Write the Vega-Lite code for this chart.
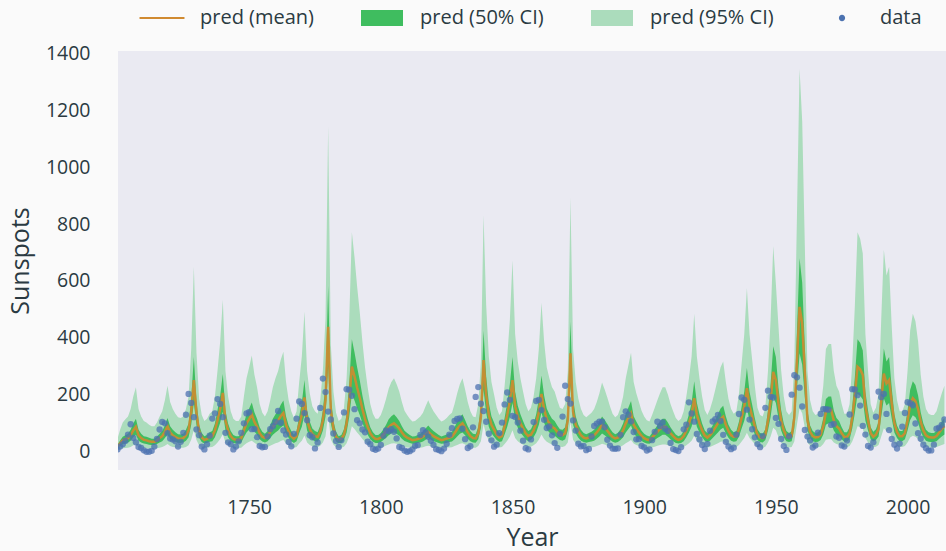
{
"$schema": "https://vega.github.io/schema/vega-lite/v6.json",
"width": 828, "height": 419,
"autosize": {"type": "none"},
"padding": {"left": 118, "top": 51, "right": 0, "bottom": 81},
"background": "#fafafa",
"config": {
  "view": {"fill": "#eaeaf2", "stroke": null},
  "font": "Open Sans",
  "axis": {"grid": false, "domain": false, "ticks": false, "labelFont": "Open Sans", "labelFontSize": 19.5, "labelColor": "#2b3a42", "titleFont": "Open Sans", "titleFontSize": 25, "titleFontWeight": "normal", "titleColor": "#2b3a42"}
},
"data": {"values": [
{"year":1700,"spots":8.3,"mean":18,"lo95":5,"lo50":12,"hi50":24,"hi95":46},
{"year":1701,"spots":18.3,"mean":30,"lo95":9,"lo50":20,"hi50":40,"hi95":77},
{"year":1702,"spots":26.7,"mean":40,"lo95":12,"lo50":27,"hi50":53,"hi95":103},
{"year":1703,"spots":38.3,"mean":44,"lo95":13,"lo50":30,"hi50":58,"hi95":114},
{"year":1704,"spots":60,"mean":48,"lo95":14,"lo50":33,"hi50":63,"hi95":124},
{"year":1705,"spots":96.7,"mean":58,"lo95":17,"lo50":39,"hi50":77,"hi95":150},
{"year":1706,"spots":48.3,"mean":75,"lo95":23,"lo50":51,"hi50":99,"hi95":194},
{"year":1707,"spots":33.3,"mean":88,"lo95":26,"lo50":60,"hi50":116,"hi95":227},
{"year":1708,"spots":16.7,"mean":58,"lo95":17,"lo50":39,"hi50":77,"hi95":150},
{"year":1709,"spots":13.3,"mean":48,"lo95":14,"lo50":33,"hi50":63,"hi95":124},
{"year":1710,"spots":5,"mean":42,"lo95":13,"lo50":29,"hi50":55,"hi95":108},
{"year":1711,"spots":0,"mean":40,"lo95":12,"lo50":27,"hi50":53,"hi95":103},
{"year":1712,"spots":0,"mean":37,"lo95":11,"lo50":25,"hi50":49,"hi95":95},
{"year":1713,"spots":3.3,"mean":35,"lo95":11,"lo50":24,"hi50":46,"hi95":90},
{"year":1714,"spots":18.3,"mean":35,"lo95":11,"lo50":24,"hi50":46,"hi95":90},
{"year":1715,"spots":45,"mean":40,"lo95":12,"lo50":27,"hi50":53,"hi95":103},
{"year":1716,"spots":78.3,"mean":48,"lo95":14,"lo50":33,"hi50":63,"hi95":124},
{"year":1717,"spots":105,"mean":55,"lo95":17,"lo50":37,"hi50":73,"hi95":142},
{"year":1718,"spots":100,"mean":70,"lo95":21,"lo50":48,"hi50":92,"hi95":181},
{"year":1719,"spots":65,"mean":90,"lo95":27,"lo50":61,"hi50":119,"hi95":232},
{"year":1720,"spots":46.7,"mean":68,"lo95":20,"lo50":46,"hi50":90,"hi95":175},
{"year":1721,"spots":43.3,"mean":58,"lo95":17,"lo50":39,"hi50":77,"hi95":150},
{"year":1722,"spots":36.7,"mean":52,"lo95":16,"lo50":35,"hi50":69,"hi95":134},
{"year":1723,"spots":18.3,"mean":47,"lo95":14,"lo50":32,"hi50":62,"hi95":121},
{"year":1724,"spots":35,"mean":46,"lo95":14,"lo50":31,"hi50":61,"hi95":119},
{"year":1725,"spots":66.7,"mean":48,"lo95":14,"lo50":33,"hi50":63,"hi95":124},
{"year":1726,"spots":130,"mean":58,"lo95":17,"lo50":39,"hi50":77,"hi95":150},
{"year":1727,"spots":203.3,"mean":75,"lo95":23,"lo50":51,"hi50":99,"hi95":194},
{"year":1728,"spots":171.7,"mean":140,"lo95":42,"lo50":95,"hi50":185,"hi95":361},
{"year":1729,"spots":121.7,"mean":252,"lo95":76,"lo50":171,"hi50":333,"hi95":650},
{"year":1730,"spots":78.3,"mean":135,"lo95":41,"lo50":92,"hi50":178,"hi95":348},
{"year":1731,"spots":58.3,"mean":72,"lo95":22,"lo50":49,"hi50":95,"hi95":186},
{"year":1732,"spots":18.3,"mean":50,"lo95":15,"lo50":34,"hi50":66,"hi95":129},
{"year":1733,"spots":8.3,"mean":42,"lo95":13,"lo50":29,"hi50":55,"hi95":108},
{"year":1734,"spots":26.7,"mean":45,"lo95":14,"lo50":31,"hi50":59,"hi95":116},
{"year":1735,"spots":56.7,"mean":52,"lo95":16,"lo50":35,"hi50":69,"hi95":134},
{"year":1736,"spots":116.7,"mean":55,"lo95":17,"lo50":37,"hi50":73,"hi95":142},
{"year":1737,"spots":135,"mean":75,"lo95":23,"lo50":51,"hi50":99,"hi95":194},
{"year":1738,"spots":185,"mean":111,"lo95":33,"lo50":75,"hi50":147,"hi95":286},
{"year":1739,"spots":168.3,"mean":150,"lo95":45,"lo50":102,"hi50":198,"hi95":387},
{"year":1740,"spots":121.7,"mean":207,"lo95":62,"lo50":141,"hi50":273,"hi95":534},
{"year":1741,"spots":66.7,"mean":110,"lo95":33,"lo50":75,"hi50":145,"hi95":284},
{"year":1742,"spots":33.3,"mean":75,"lo95":23,"lo50":51,"hi50":99,"hi95":194},
{"year":1743,"spots":26.7,"mean":55,"lo95":17,"lo50":37,"hi50":73,"hi95":142},
{"year":1744,"spots":8.3,"mean":45,"lo95":14,"lo50":31,"hi50":59,"hi95":116},
{"year":1745,"spots":18.3,"mean":42,"lo95":13,"lo50":29,"hi50":55,"hi95":108},
{"year":1746,"spots":36.7,"mean":42,"lo95":13,"lo50":29,"hi50":55,"hi95":108},
{"year":1747,"spots":66.7,"mean":48,"lo95":14,"lo50":33,"hi50":63,"hi95":124},
{"year":1748,"spots":100,"mean":75,"lo95":23,"lo50":51,"hi50":99,"hi95":194},
{"year":1749,"spots":134.8,"mean":100,"lo95":30,"lo50":68,"hi50":132,"hi95":258},
{"year":1750,"spots":139,"mean":115,"lo95":35,"lo50":78,"hi50":152,"hi95":297},
{"year":1751,"spots":79.5,"mean":131,"lo95":39,"lo50":89,"hi50":173,"hi95":338},
{"year":1752,"spots":79.7,"mean":105,"lo95":32,"lo50":71,"hi50":139,"hi95":271},
{"year":1753,"spots":51.2,"mean":88,"lo95":26,"lo50":60,"hi50":116,"hi95":227},
{"year":1754,"spots":20.3,"mean":65,"lo95":20,"lo50":44,"hi50":86,"hi95":168},
{"year":1755,"spots":16,"mean":53,"lo95":16,"lo50":36,"hi50":70,"hi95":137},
{"year":1756,"spots":17,"mean":48,"lo95":14,"lo50":33,"hi50":63,"hi95":124},
{"year":1757,"spots":54,"mean":55,"lo95":17,"lo50":37,"hi50":73,"hi95":142},
{"year":1758,"spots":79.3,"mean":70,"lo95":21,"lo50":48,"hi50":92,"hi95":181},
{"year":1759,"spots":90,"mean":88,"lo95":26,"lo50":60,"hi50":116,"hi95":227},
{"year":1760,"spots":104.8,"mean":100,"lo95":30,"lo50":68,"hi50":132,"hi95":258},
{"year":1761,"spots":143.2,"mean":110,"lo95":33,"lo50":75,"hi50":145,"hi95":284},
{"year":1762,"spots":102,"mean":125,"lo95":38,"lo50":85,"hi50":165,"hi95":323},
{"year":1763,"spots":75.2,"mean":136,"lo95":41,"lo50":92,"hi50":180,"hi95":351},
{"year":1764,"spots":60.7,"mean":95,"lo95":29,"lo50":65,"hi50":125,"hi95":245},
{"year":1765,"spots":34.8,"mean":70,"lo95":21,"lo50":48,"hi50":92,"hi95":181},
{"year":1766,"spots":19,"mean":55,"lo95":17,"lo50":37,"hi50":73,"hi95":142},
{"year":1767,"spots":63,"mean":46,"lo95":14,"lo50":31,"hi50":61,"hi95":119},
{"year":1768,"spots":116.3,"mean":55,"lo95":17,"lo50":37,"hi50":73,"hi95":142},
{"year":1769,"spots":176.8,"mean":95,"lo95":29,"lo50":65,"hi50":125,"hi95":245},
{"year":1770,"spots":168,"mean":130,"lo95":39,"lo50":88,"hi50":172,"hi95":335},
{"year":1771,"spots":136,"mean":191,"lo95":57,"lo50":130,"hi50":252,"hi95":493},
{"year":1772,"spots":110.8,"mean":110,"lo95":33,"lo50":75,"hi50":145,"hi95":284},
{"year":1773,"spots":58,"mean":80,"lo95":24,"lo50":54,"hi50":106,"hi95":206},
{"year":1774,"spots":51,"mean":62,"lo95":19,"lo50":42,"hi50":82,"hi95":160},
{"year":1775,"spots":11.7,"mean":55,"lo95":17,"lo50":37,"hi50":73,"hi95":142},
{"year":1776,"spots":33,"mean":52,"lo95":16,"lo50":35,"hi50":69,"hi95":134},
{"year":1777,"spots":154.2,"mean":70,"lo95":21,"lo50":48,"hi50":92,"hi95":181},
{"year":1778,"spots":257.3,"mean":111,"lo95":33,"lo50":75,"hi50":147,"hi95":286},
{"year":1779,"spots":209.8,"mean":182,"lo95":55,"lo50":124,"hi50":240,"hi95":470},
{"year":1780,"spots":141.3,"mean":439,"lo95":132,"lo50":299,"hi50":582,"hi95":1144},
{"year":1781,"spots":113.5,"mean":147,"lo95":44,"lo50":100,"hi50":194,"hi95":379},
{"year":1782,"spots":64.2,"mean":82,"lo95":25,"lo50":56,"hi50":108,"hi95":212},
{"year":1783,"spots":38,"mean":53,"lo95":16,"lo50":36,"hi50":70,"hi95":137},
{"year":1784,"spots":17,"mean":42,"lo95":13,"lo50":29,"hi50":55,"hi95":108},
{"year":1785,"spots":40.2,"mean":45,"lo95":14,"lo50":31,"hi50":59,"hi95":116},
{"year":1786,"spots":138.2,"mean":60,"lo95":18,"lo50":41,"hi50":79,"hi95":155},
{"year":1787,"spots":220,"mean":100,"lo95":30,"lo50":68,"hi50":132,"hi95":258},
{"year":1788,"spots":218.2,"mean":180,"lo95":54,"lo50":122,"hi50":238,"hi95":464},
{"year":1789,"spots":196.8,"mean":299,"lo95":90,"lo50":203,"hi50":395,"hi95":771},
{"year":1790,"spots":149.8,"mean":265,"lo95":80,"lo50":180,"hi50":350,"hi95":684},
{"year":1791,"spots":111,"mean":225,"lo95":68,"lo50":153,"hi50":297,"hi95":581},
{"year":1792,"spots":100,"mean":190,"lo95":57,"lo50":129,"hi50":251,"hi95":490},
{"year":1793,"spots":78.2,"mean":150,"lo95":45,"lo50":102,"hi50":198,"hi95":387},
{"year":1794,"spots":68.3,"mean":115,"lo95":35,"lo50":78,"hi50":152,"hi95":297},
{"year":1795,"spots":35.5,"mean":88,"lo95":26,"lo50":60,"hi50":116,"hi95":227},
{"year":1796,"spots":26.7,"mean":65,"lo95":20,"lo50":44,"hi50":86,"hi95":168},
{"year":1797,"spots":10.7,"mean":52,"lo95":16,"lo50":35,"hi50":69,"hi95":134},
{"year":1798,"spots":6.8,"mean":45,"lo95":14,"lo50":31,"hi50":59,"hi95":116},
{"year":1799,"spots":11.3,"mean":45,"lo95":14,"lo50":31,"hi50":59,"hi95":116},
{"year":1800,"spots":24.2,"mean":50,"lo95":15,"lo50":34,"hi50":66,"hi95":129},
{"year":1801,"spots":56.7,"mean":60,"lo95":18,"lo50":41,"hi50":79,"hi95":155},
{"year":1802,"spots":75,"mean":72,"lo95":22,"lo50":49,"hi50":95,"hi95":186},
{"year":1803,"spots":71.8,"mean":86,"lo95":26,"lo50":58,"hi50":114,"hi95":222},
{"year":1804,"spots":79.2,"mean":95,"lo95":29,"lo50":65,"hi50":125,"hi95":245},
{"year":1805,"spots":70.3,"mean":100,"lo95":30,"lo50":68,"hi50":132,"hi95":258},
{"year":1806,"spots":46.8,"mean":92,"lo95":28,"lo50":63,"hi50":121,"hi95":237},
{"year":1807,"spots":16.8,"mean":82,"lo95":25,"lo50":56,"hi50":108,"hi95":212},
{"year":1808,"spots":13.5,"mean":68,"lo95":20,"lo50":46,"hi50":90,"hi95":175},
{"year":1809,"spots":4.2,"mean":56,"lo95":17,"lo50":38,"hi50":74,"hi95":144},
{"year":1810,"spots":0,"mean":50,"lo95":15,"lo50":34,"hi50":66,"hi95":129},
{"year":1811,"spots":2.3,"mean":45,"lo95":14,"lo50":31,"hi50":59,"hi95":116},
{"year":1812,"spots":8.3,"mean":41,"lo95":12,"lo50":28,"hi50":54,"hi95":106},
{"year":1813,"spots":20.3,"mean":42,"lo95":13,"lo50":29,"hi50":55,"hi95":108},
{"year":1814,"spots":23.2,"mean":45,"lo95":14,"lo50":31,"hi50":59,"hi95":116},
{"year":1815,"spots":59,"mean":48,"lo95":14,"lo50":33,"hi50":63,"hi95":124},
{"year":1816,"spots":76.3,"mean":53,"lo95":16,"lo50":36,"hi50":70,"hi95":137},
{"year":1817,"spots":68.3,"mean":62,"lo95":19,"lo50":42,"hi50":82,"hi95":160},
{"year":1818,"spots":52.9,"mean":70,"lo95":21,"lo50":48,"hi50":92,"hi95":181},
{"year":1819,"spots":38.5,"mean":62,"lo95":19,"lo50":42,"hi50":82,"hi95":160},
{"year":1820,"spots":24.2,"mean":55,"lo95":17,"lo50":37,"hi50":73,"hi95":142},
{"year":1821,"spots":9.2,"mean":50,"lo95":15,"lo50":34,"hi50":66,"hi95":129},
{"year":1822,"spots":6.3,"mean":45,"lo95":14,"lo50":31,"hi50":59,"hi95":116},
{"year":1823,"spots":2.2,"mean":41,"lo95":12,"lo50":28,"hi50":54,"hi95":106},
{"year":1824,"spots":11.4,"mean":43,"lo95":13,"lo50":29,"hi50":57,"hi95":111},
{"year":1825,"spots":28.2,"mean":46,"lo95":14,"lo50":31,"hi50":61,"hi95":119},
{"year":1826,"spots":59.9,"mean":50,"lo95":15,"lo50":34,"hi50":66,"hi95":129},
{"year":1827,"spots":83,"mean":53,"lo95":16,"lo50":36,"hi50":70,"hi95":137},
{"year":1828,"spots":108.5,"mean":65,"lo95":20,"lo50":44,"hi50":86,"hi95":168},
{"year":1829,"spots":115.2,"mean":80,"lo95":24,"lo50":54,"hi50":106,"hi95":206},
{"year":1830,"spots":117.4,"mean":92,"lo95":28,"lo50":63,"hi50":121,"hi95":237},
{"year":1831,"spots":80.8,"mean":100,"lo95":30,"lo50":68,"hi50":132,"hi95":258},
{"year":1832,"spots":44.3,"mean":85,"lo95":26,"lo50":58,"hi50":112,"hi95":219},
{"year":1833,"spots":13.4,"mean":68,"lo95":20,"lo50":46,"hi50":90,"hi95":175},
{"year":1834,"spots":19.5,"mean":55,"lo95":17,"lo50":37,"hi50":73,"hi95":142},
{"year":1835,"spots":85.8,"mean":48,"lo95":14,"lo50":33,"hi50":63,"hi95":124},
{"year":1836,"spots":192.7,"mean":47,"lo95":14,"lo50":32,"hi50":62,"hi95":121},
{"year":1837,"spots":227.3,"mean":65,"lo95":20,"lo50":44,"hi50":86,"hi95":168},
{"year":1838,"spots":168.7,"mean":123,"lo95":37,"lo50":84,"hi50":162,"hi95":317},
{"year":1839,"spots":143,"mean":322,"lo95":97,"lo50":219,"hi50":425,"hi95":831},
{"year":1840,"spots":105.5,"mean":200,"lo95":60,"lo50":136,"hi50":264,"hi95":516},
{"year":1841,"spots":63.3,"mean":130,"lo95":39,"lo50":88,"hi50":172,"hi95":335},
{"year":1842,"spots":40.3,"mean":95,"lo95":29,"lo50":65,"hi50":125,"hi95":245},
{"year":1843,"spots":18.1,"mean":78,"lo95":23,"lo50":53,"hi50":103,"hi95":201},
{"year":1844,"spots":25.1,"mean":60,"lo95":18,"lo50":41,"hi50":79,"hi95":155},
{"year":1845,"spots":65.8,"mean":50,"lo95":15,"lo50":34,"hi50":66,"hi95":129},
{"year":1846,"spots":102.7,"mean":55,"lo95":17,"lo50":37,"hi50":73,"hi95":142},
{"year":1847,"spots":166.3,"mean":90,"lo95":27,"lo50":61,"hi50":119,"hi95":232},
{"year":1848,"spots":208.3,"mean":130,"lo95":39,"lo50":88,"hi50":172,"hi95":335},
{"year":1849,"spots":182.5,"mean":180,"lo95":54,"lo50":122,"hi50":238,"hi95":464},
{"year":1850,"spots":126.3,"mean":252,"lo95":76,"lo50":171,"hi50":333,"hi95":673},
{"year":1851,"spots":122,"mean":160,"lo95":48,"lo50":109,"hi50":211,"hi95":413},
{"year":1852,"spots":102.7,"mean":123,"lo95":37,"lo50":84,"hi50":162,"hi95":317},
{"year":1853,"spots":74.1,"mean":100,"lo95":30,"lo50":68,"hi50":132,"hi95":258},
{"year":1854,"spots":39,"mean":82,"lo95":25,"lo50":56,"hi50":108,"hi95":212},
{"year":1855,"spots":12.7,"mean":65,"lo95":20,"lo50":44,"hi50":86,"hi95":168},
{"year":1856,"spots":8.2,"mean":55,"lo95":17,"lo50":37,"hi50":73,"hi95":142},
{"year":1857,"spots":43.4,"mean":60,"lo95":18,"lo50":41,"hi50":79,"hi95":155},
{"year":1858,"spots":104.4,"mean":75,"lo95":23,"lo50":51,"hi50":99,"hi95":194},
{"year":1859,"spots":178.3,"mean":100,"lo95":30,"lo50":68,"hi50":132,"hi95":258},
{"year":1860,"spots":182.2,"mean":140,"lo95":42,"lo50":95,"hi50":185,"hi95":361},
{"year":1861,"spots":146.6,"mean":203,"lo95":61,"lo50":138,"hi50":268,"hi95":524},
{"year":1862,"spots":112.1,"mean":150,"lo95":45,"lo50":102,"hi50":198,"hi95":387},
{"year":1863,"spots":83.5,"mean":115,"lo95":35,"lo50":78,"hi50":152,"hi95":297},
{"year":1864,"spots":89.3,"mean":100,"lo95":30,"lo50":68,"hi50":132,"hi95":258},
{"year":1865,"spots":57.8,"mean":88,"lo95":26,"lo50":60,"hi50":116,"hi95":227},
{"year":1866,"spots":30.7,"mean":82,"lo95":25,"lo50":56,"hi50":108,"hi95":212},
{"year":1867,"spots":13.9,"mean":70,"lo95":21,"lo50":48,"hi50":92,"hi95":181},
{"year":1868,"spots":62.8,"mean":60,"lo95":18,"lo50":41,"hi50":79,"hi95":155},
{"year":1869,"spots":123.6,"mean":58,"lo95":17,"lo50":39,"hi50":77,"hi95":150},
{"year":1870,"spots":232,"mean":65,"lo95":20,"lo50":44,"hi50":86,"hi95":168},
{"year":1871,"spots":185.3,"mean":110,"lo95":33,"lo50":75,"hi50":145,"hi95":284},
{"year":1872,"spots":169.2,"mean":346,"lo95":104,"lo50":235,"hi50":457,"hi95":893},
{"year":1873,"spots":110.1,"mean":140,"lo95":42,"lo50":95,"hi50":185,"hi95":361},
{"year":1874,"spots":74.5,"mean":95,"lo95":29,"lo50":65,"hi50":125,"hi95":245},
{"year":1875,"spots":28.3,"mean":72,"lo95":22,"lo50":49,"hi50":95,"hi95":186},
{"year":1876,"spots":18.9,"mean":58,"lo95":17,"lo50":39,"hi50":77,"hi95":150},
{"year":1877,"spots":20.7,"mean":50,"lo95":15,"lo50":34,"hi50":66,"hi95":129},
{"year":1878,"spots":5.7,"mean":47,"lo95":14,"lo50":32,"hi50":62,"hi95":121},
{"year":1879,"spots":10,"mean":50,"lo95":15,"lo50":34,"hi50":66,"hi95":129},
{"year":1880,"spots":53.7,"mean":53,"lo95":16,"lo50":36,"hi50":70,"hi95":137},
{"year":1881,"spots":90.5,"mean":58,"lo95":17,"lo50":39,"hi50":77,"hi95":150},
{"year":1882,"spots":99,"mean":68,"lo95":20,"lo50":46,"hi50":90,"hi95":175},
{"year":1883,"spots":106.1,"mean":80,"lo95":24,"lo50":54,"hi50":106,"hi95":206},
{"year":1884,"spots":105.8,"mean":94,"lo95":28,"lo50":64,"hi50":124,"hi95":243},
{"year":1885,"spots":86.3,"mean":85,"lo95":26,"lo50":58,"hi50":112,"hi95":219},
{"year":1886,"spots":42.4,"mean":74,"lo95":22,"lo50":50,"hi50":98,"hi95":191},
{"year":1887,"spots":21.8,"mean":62,"lo95":19,"lo50":42,"hi50":82,"hi95":160},
{"year":1888,"spots":11.2,"mean":52,"lo95":16,"lo50":35,"hi50":69,"hi95":134},
{"year":1889,"spots":10.4,"mean":47,"lo95":14,"lo50":32,"hi50":62,"hi95":121},
{"year":1890,"spots":11.8,"mean":50,"lo95":15,"lo50":34,"hi50":66,"hi95":129},
{"year":1891,"spots":59.5,"mean":60,"lo95":18,"lo50":41,"hi50":79,"hi95":155},
{"year":1892,"spots":121.7,"mean":75,"lo95":23,"lo50":51,"hi50":99,"hi95":194},
{"year":1893,"spots":142,"mean":100,"lo95":30,"lo50":68,"hi50":132,"hi95":258},
{"year":1894,"spots":130,"mean":118,"lo95":35,"lo50":80,"hi50":156,"hi95":304},
{"year":1895,"spots":106.6,"mean":135,"lo95":41,"lo50":92,"hi50":178,"hi95":348},
{"year":1896,"spots":69.4,"mean":95,"lo95":29,"lo50":65,"hi50":125,"hi95":245},
{"year":1897,"spots":43.8,"mean":80,"lo95":24,"lo50":54,"hi50":106,"hi95":206},
{"year":1898,"spots":44.4,"mean":68,"lo95":20,"lo50":46,"hi50":90,"hi95":175},
{"year":1899,"spots":20.2,"mean":56,"lo95":17,"lo50":38,"hi50":74,"hi95":144},
{"year":1900,"spots":15.7,"mean":48,"lo95":14,"lo50":33,"hi50":63,"hi95":124},
{"year":1901,"spots":4.6,"mean":43,"lo95":13,"lo50":29,"hi50":57,"hi95":111},
{"year":1902,"spots":8.5,"mean":41,"lo95":12,"lo50":28,"hi50":54,"hi95":106},
{"year":1903,"spots":40.8,"mean":50,"lo95":15,"lo50":34,"hi50":66,"hi95":129},
{"year":1904,"spots":70.1,"mean":60,"lo95":18,"lo50":41,"hi50":79,"hi95":155},
{"year":1905,"spots":105.5,"mean":70,"lo95":21,"lo50":48,"hi50":92,"hi95":181},
{"year":1906,"spots":90.1,"mean":80,"lo95":24,"lo50":54,"hi50":106,"hi95":206},
{"year":1907,"spots":102.8,"mean":88,"lo95":26,"lo50":60,"hi50":116,"hi95":227},
{"year":1908,"spots":80.9,"mean":88,"lo95":26,"lo50":60,"hi50":116,"hi95":227},
{"year":1909,"spots":73.2,"mean":78,"lo95":23,"lo50":53,"hi50":103,"hi95":201},
{"year":1910,"spots":30.9,"mean":65,"lo95":20,"lo50":44,"hi50":86,"hi95":168},
{"year":1911,"spots":9.5,"mean":55,"lo95":17,"lo50":37,"hi50":73,"hi95":142},
{"year":1912,"spots":6,"mean":46,"lo95":14,"lo50":31,"hi50":61,"hi95":119},
{"year":1913,"spots":2.4,"mean":42,"lo95":13,"lo50":29,"hi50":55,"hi95":108},
{"year":1914,"spots":16.1,"mean":45,"lo95":14,"lo50":31,"hi50":59,"hi95":116},
{"year":1915,"spots":79,"mean":55,"lo95":17,"lo50":37,"hi50":73,"hi95":142},
{"year":1916,"spots":95,"mean":75,"lo95":23,"lo50":51,"hi50":99,"hi95":194},
{"year":1917,"spots":173.6,"mean":100,"lo95":30,"lo50":68,"hi50":132,"hi95":258},
{"year":1918,"spots":134.6,"mean":130,"lo95":39,"lo50":88,"hi50":172,"hi95":335},
{"year":1919,"spots":105.7,"mean":188,"lo95":56,"lo50":128,"hi50":248,"hi95":485},
{"year":1920,"spots":62.7,"mean":130,"lo95":39,"lo50":88,"hi50":172,"hi95":335},
{"year":1921,"spots":43.5,"mean":100,"lo95":30,"lo50":68,"hi50":132,"hi95":258},
{"year":1922,"spots":23.7,"mean":75,"lo95":23,"lo50":51,"hi50":99,"hi95":194},
{"year":1923,"spots":9.7,"mean":57,"lo95":17,"lo50":39,"hi50":75,"hi95":147},
{"year":1924,"spots":27.9,"mean":50,"lo95":15,"lo50":34,"hi50":66,"hi95":129},
{"year":1925,"spots":74,"mean":58,"lo95":17,"lo50":39,"hi50":77,"hi95":150},
{"year":1926,"spots":106.5,"mean":70,"lo95":21,"lo50":48,"hi50":92,"hi95":181},
{"year":1927,"spots":114.7,"mean":85,"lo95":26,"lo50":58,"hi50":112,"hi95":219},
{"year":1928,"spots":129.7,"mean":100,"lo95":30,"lo50":68,"hi50":132,"hi95":258},
{"year":1929,"spots":108.2,"mean":115,"lo95":35,"lo50":78,"hi50":152,"hi95":297},
{"year":1930,"spots":59.4,"mean":123,"lo95":37,"lo50":84,"hi50":162,"hi95":317},
{"year":1931,"spots":35.1,"mean":95,"lo95":29,"lo50":65,"hi50":125,"hi95":245},
{"year":1932,"spots":18.6,"mean":72,"lo95":22,"lo50":49,"hi50":95,"hi95":186},
{"year":1933,"spots":9.2,"mean":58,"lo95":17,"lo50":39,"hi50":77,"hi95":150},
{"year":1934,"spots":14.6,"mean":52,"lo95":16,"lo50":35,"hi50":69,"hi95":134},
{"year":1935,"spots":60.2,"mean":55,"lo95":17,"lo50":37,"hi50":73,"hi95":142},
{"year":1936,"spots":132.8,"mean":80,"lo95":24,"lo50":54,"hi50":106,"hi95":206},
{"year":1937,"spots":190.6,"mean":120,"lo95":36,"lo50":82,"hi50":158,"hi95":310},
{"year":1938,"spots":182.6,"mean":160,"lo95":48,"lo50":109,"hi50":211,"hi95":413},
{"year":1939,"spots":148,"mean":223,"lo95":67,"lo50":152,"hi50":294,"hi95":575},
{"year":1940,"spots":113,"mean":160,"lo95":48,"lo50":109,"hi50":211,"hi95":413},
{"year":1941,"spots":79.2,"mean":125,"lo95":38,"lo50":85,"hi50":165,"hi95":323},
{"year":1942,"spots":50.8,"mean":90,"lo95":27,"lo50":61,"hi50":119,"hi95":232},
{"year":1943,"spots":27.1,"mean":60,"lo95":18,"lo50":41,"hi50":79,"hi95":155},
{"year":1944,"spots":16.1,"mean":50,"lo95":15,"lo50":34,"hi50":66,"hi95":129},
{"year":1945,"spots":55.3,"mean":48,"lo95":14,"lo50":33,"hi50":63,"hi95":124},
{"year":1946,"spots":154.3,"mean":60,"lo95":18,"lo50":41,"hi50":79,"hi95":155},
{"year":1947,"spots":214.7,"mean":110,"lo95":33,"lo50":75,"hi50":145,"hi95":284},
{"year":1948,"spots":193,"mean":180,"lo95":54,"lo50":122,"hi50":238,"hi95":464},
{"year":1949,"spots":190.7,"mean":281,"lo95":84,"lo50":191,"hi50":371,"hi95":723},
{"year":1950,"spots":118.9,"mean":252,"lo95":76,"lo50":171,"hi50":333,"hi95":590},
{"year":1951,"spots":98.3,"mean":170,"lo95":51,"lo50":116,"hi50":224,"hi95":439},
{"year":1952,"spots":45,"mean":111,"lo95":33,"lo50":75,"hi50":147,"hi95":286},
{"year":1953,"spots":20.1,"mean":75,"lo95":23,"lo50":51,"hi50":99,"hi95":194},
{"year":1954,"spots":6.6,"mean":55,"lo95":17,"lo50":37,"hi50":73,"hi95":142},
{"year":1955,"spots":54.2,"mean":50,"lo95":15,"lo50":34,"hi50":66,"hi95":129},
{"year":1956,"spots":200.7,"mean":55,"lo95":17,"lo50":37,"hi50":73,"hi95":142},
{"year":1957,"spots":269.3,"mean":120,"lo95":36,"lo50":82,"hi50":158,"hi95":310},
{"year":1958,"spots":261.7,"mean":320,"lo95":96,"lo50":218,"hi50":422,"hi95":826},
{"year":1959,"spots":225.1,"mean":509,"lo95":153,"lo50":346,"hi50":680,"hi95":1345},
{"year":1960,"spots":159,"mean":450,"lo95":135,"lo50":306,"hi50":594,"hi95":1161},
{"year":1961,"spots":76.4,"mean":280,"lo95":84,"lo50":190,"hi50":370,"hi95":722},
{"year":1962,"spots":53.4,"mean":110,"lo95":33,"lo50":75,"hi50":145,"hi95":284},
{"year":1963,"spots":39.9,"mean":70,"lo95":21,"lo50":48,"hi50":92,"hi95":181},
{"year":1964,"spots":15,"mean":55,"lo95":17,"lo50":37,"hi50":73,"hi95":142},
{"year":1965,"spots":22,"mean":50,"lo95":15,"lo50":34,"hi50":66,"hi95":129},
{"year":1966,"spots":66.8,"mean":52,"lo95":16,"lo50":35,"hi50":69,"hi95":134},
{"year":1967,"spots":132.9,"mean":60,"lo95":18,"lo50":41,"hi50":79,"hi95":155},
{"year":1968,"spots":150,"mean":90,"lo95":27,"lo50":61,"hi50":119,"hi95":232},
{"year":1969,"spots":149.4,"mean":140,"lo95":42,"lo50":95,"hi50":185,"hi95":361},
{"year":1970,"spots":148,"mean":147,"lo95":44,"lo50":100,"hi50":194,"hi95":379},
{"year":1971,"spots":94.4,"mean":147,"lo95":44,"lo50":100,"hi50":194,"hi95":379},
{"year":1972,"spots":97.6,"mean":110,"lo95":33,"lo50":75,"hi50":145,"hi95":284},
{"year":1973,"spots":54.1,"mean":90,"lo95":27,"lo50":61,"hi50":119,"hi95":232},
{"year":1974,"spots":49.2,"mean":82,"lo95":25,"lo50":56,"hi50":108,"hi95":212},
{"year":1975,"spots":22.5,"mean":65,"lo95":20,"lo50":44,"hi50":86,"hi95":168},
{"year":1976,"spots":18.4,"mean":52,"lo95":16,"lo50":35,"hi50":69,"hi95":134},
{"year":1977,"spots":39.3,"mean":52,"lo95":16,"lo50":35,"hi50":69,"hi95":134},
{"year":1978,"spots":131,"mean":65,"lo95":20,"lo50":44,"hi50":86,"hi95":168},
{"year":1979,"spots":220.1,"mean":120,"lo95":36,"lo50":82,"hi50":158,"hi95":310},
{"year":1980,"spots":218.9,"mean":200,"lo95":60,"lo50":136,"hi50":264,"hi95":516},
{"year":1981,"spots":198.9,"mean":299,"lo95":90,"lo50":203,"hi50":395,"hi95":771},
{"year":1982,"spots":162.4,"mean":290,"lo95":87,"lo50":197,"hi50":383,"hi95":748},
{"year":1983,"spots":91,"mean":270,"lo95":81,"lo50":184,"hi50":356,"hi95":697},
{"year":1984,"spots":60.5,"mean":160,"lo95":48,"lo50":109,"hi50":211,"hi95":413},
{"year":1985,"spots":20.6,"mean":110,"lo95":33,"lo50":75,"hi50":145,"hi95":284},
{"year":1986,"spots":14.8,"mean":65,"lo95":20,"lo50":44,"hi50":86,"hi95":168},
{"year":1987,"spots":33.9,"mean":53,"lo95":16,"lo50":36,"hi50":70,"hi95":137},
{"year":1988,"spots":123,"mean":60,"lo95":18,"lo50":41,"hi50":79,"hi95":155},
{"year":1989,"spots":211.1,"mean":80,"lo95":24,"lo50":54,"hi50":106,"hi95":206},
{"year":1990,"spots":191.8,"mean":180,"lo95":54,"lo50":122,"hi50":238,"hi95":464},
{"year":1991,"spots":203.3,"mean":275,"lo95":83,"lo50":187,"hi50":363,"hi95":710},
{"year":1992,"spots":133,"mean":240,"lo95":72,"lo50":163,"hi50":317,"hi95":619},
{"year":1993,"spots":76.1,"mean":252,"lo95":76,"lo50":171,"hi50":333,"hi95":650},
{"year":1994,"spots":44.9,"mean":170,"lo95":51,"lo50":116,"hi50":224,"hi95":439},
{"year":1995,"spots":25.1,"mean":100,"lo95":30,"lo50":68,"hi50":132,"hi95":258},
{"year":1996,"spots":11.6,"mean":70,"lo95":21,"lo50":48,"hi50":92,"hi95":181},
{"year":1997,"spots":28.9,"mean":55,"lo95":17,"lo50":37,"hi50":73,"hi95":142},
{"year":1998,"spots":88.3,"mean":55,"lo95":17,"lo50":37,"hi50":73,"hi95":142},
{"year":1999,"spots":136.3,"mean":65,"lo95":20,"lo50":44,"hi50":86,"hi95":168},
{"year":2000,"spots":173.9,"mean":110,"lo95":33,"lo50":75,"hi50":145,"hi95":284},
{"year":2001,"spots":170.4,"mean":165,"lo95":50,"lo50":112,"hi50":218,"hi95":426},
{"year":2002,"spots":163.6,"mean":188,"lo95":56,"lo50":128,"hi50":248,"hi95":485},
{"year":2003,"spots":99.3,"mean":178,"lo95":53,"lo50":121,"hi50":235,"hi95":459},
{"year":2004,"spots":65.3,"mean":150,"lo95":45,"lo50":102,"hi50":198,"hi95":387},
{"year":2005,"spots":45.8,"mean":105,"lo95":32,"lo50":71,"hi50":139,"hi95":271},
{"year":2006,"spots":24.7,"mean":75,"lo95":23,"lo50":51,"hi50":99,"hi95":194},
{"year":2007,"spots":12.6,"mean":58,"lo95":17,"lo50":39,"hi50":77,"hi95":150},
{"year":2008,"spots":4.2,"mean":52,"lo95":16,"lo50":35,"hi50":69,"hi95":134},
{"year":2009,"spots":4.8,"mean":50,"lo95":15,"lo50":34,"hi50":66,"hi95":129},
{"year":2010,"spots":24.9,"mean":50,"lo95":15,"lo50":34,"hi50":66,"hi95":129},
{"year":2011,"spots":80.8,"mean":55,"lo95":17,"lo50":37,"hi50":73,"hi95":142},
{"year":2012,"spots":84.5,"mean":68,"lo95":20,"lo50":46,"hi50":90,"hi95":175},
{"year":2013,"spots":94,"mean":80,"lo95":24,"lo50":54,"hi50":106,"hi95":206},
{"year":2014,"spots":113.3,"mean":90,"lo95":27,"lo50":61,"hi50":119,"hi95":232}
]},
"encoding": {
  "x": {"field": "year", "type": "quantitative", "title": "Year",
        "scale": {"domain": [1700.2, 2014.6], "nice": false, "zero": false},
        "axis": {"values": [1750, 1800, 1850, 1900, 1950, 2000], "format": "d", "labelPadding": 28, "titleY": 75, "titleBaseline": "alphabetic"}}
},
"layer": [
  {"mark": {"type": "area", "clip": true},
   "encoding": {
     "y": {"field": "hi95", "type": "quantitative", "title": "Sunspots",
           "scale": {"domain": [-64, 1408], "nice": false, "zero": false},
           "axis": {"values": [0, 200, 400, 600, 800, 1000, 1200, 1400], "format": "d", "labelPadding": 28, "titleX": -90, "titleY": 209.5, "titleAngle": -90, "titleBaseline": "alphabetic", "titleAlign": "center"}},
     "y2": {"field": "lo95"},
     "color": {"datum": "pred (95% CI)", "type": "nominal",
       "scale": {"domain": ["pred (mean)", "pred (50% CI)", "pred (95% CI)", "data"], "range": ["#d08a30", "#3fbd5f", "#abdcbc", "#4c72b0"]},
       "legend": {"title": null, "orient": "none", "legendX": 23, "legendY": -54, "direction": "horizontal", "columns": 4,
         "symbolSize": 1764, "labelFont": "Open Sans", "labelFontSize": 20, "labelColor": "#2b3a42", "labelOffset": 17, "columnPadding": 47, "padding": 0,
         "encode": {"symbols": {"update": {
           "shape": {"signal": "datum.value === 'pred (mean)' ? 'M-1.07,-0.05H1.07V0.05H-1.07Z' : (datum.value === 'data' ? 'M-0.15,0A0.15,0.15 0 1,1 0.15,0A0.15,0.15 0 1,1 -0.15,0Z' : 'M-1,-0.38H1V0.38H-1Z')"},
           "fill": {"signal": "datum.value === 'pred (mean)' ? '#f1aa66' : (datum.value === 'pred (50% CI)' ? '#4cc46f' : (datum.value === 'pred (95% CI)' ? '#b3e4c5' : '#6d89c3'))"},
           "opacity": {"value": 1},
           "fillOpacity": {"value": 1},
           "stroke": {"value": "transparent"},
           "strokeWidth": {"value": 0}
         }}}}}
   }},
  {"mark": {"type": "area", "clip": true},
   "encoding": {
     "y": {"field": "hi50", "type": "quantitative", "title": "Sunspots"},
     "y2": {"field": "lo50"},
     "color": {"datum": "pred (50% CI)", "type": "nominal"}
   }},
  {"mark": {"type": "line", "clip": true, "strokeWidth": 2.5, "opacity": 0.9},
   "encoding": {
     "y": {"field": "mean", "type": "quantitative", "title": "Sunspots"},
     "color": {"datum": "pred (mean)", "type": "nominal"}
   }},
  {"mark": {"type": "point", "filled": true, "size": 40, "opacity": 0.75, "clip": true},
   "encoding": {
     "y": {"field": "spots", "type": "quantitative", "title": "Sunspots"},
     "color": {"datum": "data", "type": "nominal"}
   }}
]
}
